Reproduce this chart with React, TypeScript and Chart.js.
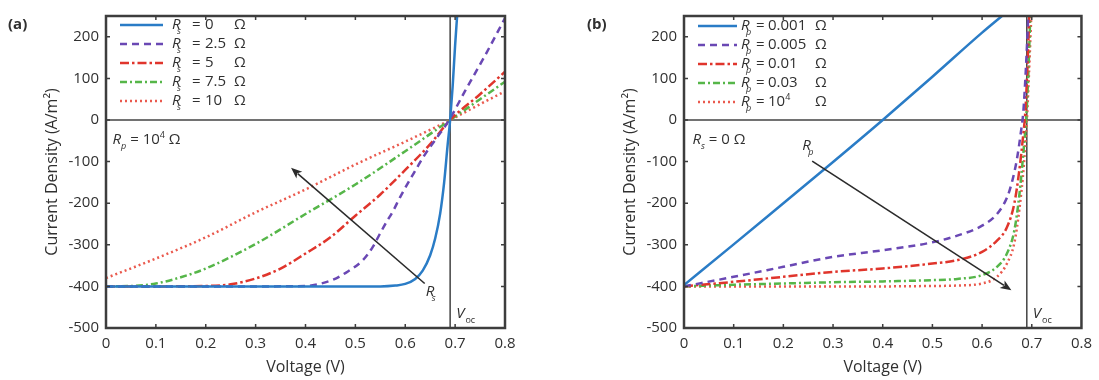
import React, { useEffect, useRef } from "react";
import { Chart, registerables } from "chart.js";
Chart.register(...registerables);

const FONT = '"Open Sans", "Liberation Sans", sans-serif';
const TXT = "#303030";

// ---- axes ----
const voltageTicks = [0, 0.1, 0.2, 0.3, 0.4, 0.5, 0.6, 0.7, 0.8];
const voltageTickLabels = ["0", "0.1", "0.2", "0.3", "0.4", "0.5", "0.6", "0.7", "0.8"];
const currentTicks = [-500, -400, -300, -200, -100, 0, 100, 200];
const currentTickLabels = ["-500", "-400", "-300", "-200", "-100", "0", "100", "200"];
const VOC = 0.69;

// ---- panel (a): series resistance Rs, Rp = 10^4 ----
const rsValues = ["0", "2.5", "5", "7.5", "10"];
const aRs0V = [0, 0.1, 0.2, 0.3, 0.4, 0.5, 0.55, 0.58, 0.6, 0.62, 0.635, 0.65, 0.66, 0.67, 0.678, 0.685, 0.69, 0.695, 0.7, 0.704];
const aRs0J = [-400, -400, -400, -400, -400, -400, -400, -398, -394, -382, -362, -325, -285, -225, -150, -60, 0, 80, 180, 250];
const aRs25V = [0, 0.1, 0.2, 0.3, 0.4, 0.42, 0.455, 0.485, 0.515, 0.535, 0.549, 0.562, 0.576, 0.589, 0.616, 0.64, 0.665, 0.688, 0.72, 0.76, 0.8];
const aRs25J = [-400, -400, -400, -400, -399, -396, -384, -364, -337, -305, -274, -246, -218, -187, -130, -82, -40, 0, 70, 155, 245];
const aRs5V = [0, 0.1, 0.2, 0.25, 0.3, 0.35, 0.4, 0.45, 0.5, 0.55, 0.6, 0.65, 0.69, 0.75, 0.8];
const aRs5J = [-400, -400, -399, -395, -381, -357, -321, -282, -230, -179, -120, -58, 0, 62, 116];
const aRs75V = [0, 0.05, 0.1, 0.15, 0.2, 0.3, 0.4, 0.5, 0.6, 0.69, 0.75, 0.8];
const aRs75J = [-400, -399, -393, -378, -357, -298, -226, -155, -75, 0, 50, 92];
const aRs10V = [0, 0.1, 0.2, 0.3, 0.4, 0.5, 0.6, 0.69, 0.75, 0.8];
const aRs10J = [-380, -333, -282, -222, -167, -107, -52, 0, 38, 69];
const aArrowFrom = [0.639, -393];
const aArrowTo = [0.371, -115];
const aArrowLabel = [0.641, -413];
const aNotePos = [0.013, -48];

// ---- panel (b): parallel resistance Rp, Rs = 0 ----
const rpValues = ["0.001", "0.005", "0.01", "0.03", "10⁴"];
const bRp1V = [0, 0.1, 0.2, 0.3, 0.4, 0.5, 0.6, 0.64];
const bRp1J = [-397, -299, -200, -101, 0, 104, 210, 250];
const bRp2V = [0, 0.1, 0.2, 0.3, 0.4, 0.5, 0.55, 0.6, 0.63, 0.65, 0.66, 0.67, 0.678, 0.683, 0.688, 0.693];
const bRp2J = [-400, -377, -353, -329, -313, -294, -278, -254, -226, -187, -150, -95, -30, 20, 120, 250];
const bRp3V = [0, 0.1, 0.2, 0.3, 0.4, 0.5, 0.55, 0.6, 0.63, 0.65, 0.665, 0.675, 0.682, 0.687, 0.691, 0.695];
const bRp3J = [-400, -389, -377, -365, -357, -345, -337, -317, -290, -258, -200, -120, -45, 20, 120, 250];
const bRp4V = [0, 0.1, 0.2, 0.3, 0.4, 0.5, 0.55, 0.6, 0.63, 0.65, 0.665, 0.675, 0.683, 0.689, 0.693, 0.697];
const bRp4J = [-400, -396, -393, -390, -388, -385, -382, -373, -353, -321, -265, -180, -80, 10, 110, 250];
const bRp5V = [0, 0.1, 0.2, 0.3, 0.4, 0.5, 0.55, 0.6, 0.63, 0.65, 0.665, 0.675, 0.684, 0.69, 0.694, 0.699];
const bRp5J = [-400, -400, -400, -400, -400, -399, -398, -393, -377, -345, -295, -215, -110, -5, 100, 250];
const bArrowFrom = [0.258, -99];
const bArrowTo = [0.659, -409];
const bArrowLabel = [0.238, -63];
const bNotePos = [0.017, -48];

// ---- styles ----
const seriesColors = ["#2a7cc6", "#6a48b4", "#e0352c", "#56b649", "#ea5a4e"];
const seriesDash = [[], [7, 5], [9, 3, 2.5, 3], [7, 3, 2, 3], [2, 3]];

type Part = { t: string; it?: boolean; sub?: boolean; sup?: boolean; b?: boolean };

function drawRich(ctx: CanvasRenderingContext2D, x: number, y: number, parts: Part[], size: number) {
  ctx.save();
  ctx.fillStyle = TXT;
  ctx.textBaseline = "middle";
  ctx.textAlign = "left";
  let cx = x;
  for (const p of parts) {
    const small = p.sub || p.sup;
    const fs = small ? Math.round(size * 0.62) : size;
    ctx.font = `${p.it ? "italic " : ""}${p.b ? "bold " : ""}${fs}px ${FONT}`;
    const dy = p.sub ? size * 0.42 : p.sup ? -size * 0.32 : 0;
    ctx.fillText(p.t, cx, y + dy);
    cx += ctx.measureText(p.t).width;
  }
  ctx.restore();
  return cx;
}

function valueParts(s: string): Part[] {
  if (s.endsWith("⁴")) return [{ t: s.slice(0, -1) }, { t: "4", sup: true }];
  return [{ t: s }];
}

function zip(v: number[], j: number[]) {
  return v.map((x, i) => ({ x, y: j[i] }));
}

type PanelCfg = {
  id: string;
  label: string;
  sub: string;
  values: string[];
  series: [number[], number[]][];
  legend: { x0: number; x1: number; rX: number; eqX: number; valX: number; omX: number; rows: number[] };
  note: Part[];
  notePos: number[];
  arrowFrom: number[];
  arrowTo: number[];
  arrowLabel: number[];
  arrowSub: string;
  padLeft: number;
  padRight: number;
  yWidth: number;
  labelX: number;
};

function makePlugin(cfg: PanelCfg) {
  return {
    id: "decor" + cfg.id,
    beforeDatasetsDraw(chart: any) {
      const { ctx, chartArea: a, scales } = chart;
      const x = scales.x, y = scales.y;
      ctx.save();
      ctx.strokeStyle = "#444";
      ctx.lineWidth = 1.5;
      const y0 = y.getPixelForValue(0);
      const xv = x.getPixelForValue(VOC);
      ctx.beginPath();
      ctx.moveTo(a.left, y0);
      ctx.lineTo(a.right, y0);
      ctx.moveTo(xv, a.top);
      ctx.lineTo(xv, a.bottom);
      ctx.stroke();
      ctx.restore();
    },
    afterDatasetsDraw(chart: any) {
      const { ctx, chartArea: a, scales } = chart;
      const x = scales.x, y = scales.y;
      ctx.save();
      // frame
      ctx.strokeStyle = "#3d3d3d";
      ctx.lineWidth = 2.5;
      ctx.strokeRect(a.left, a.top, a.right - a.left, a.bottom - a.top);
      // inward ticks
      ctx.lineWidth = 1.5;
      ctx.beginPath();
      voltageTicks.forEach((v) => {
        if (v <= 0 || v >= 0.8) return;
        const px = x.getPixelForValue(v);
        ctx.moveTo(px, a.bottom);
        ctx.lineTo(px, a.bottom - 4);
        ctx.moveTo(px, a.top);
        ctx.lineTo(px, a.top + 4);
      });
      currentTicks.forEach((v) => {
        if (v <= -500) return;
        const py = y.getPixelForValue(v);
        ctx.moveTo(a.left, py);
        ctx.lineTo(a.left + 4, py);
        ctx.moveTo(a.right, py);
        ctx.lineTo(a.right - 4, py);
      });
      ctx.stroke();
      ctx.restore();

      // legend
      const L = cfg.legend;
      cfg.values.forEach((val, i) => {
        const ry = L.rows[i];
        ctx.save();
        ctx.strokeStyle = seriesColors[i];
        ctx.lineWidth = 2.5;
        ctx.setLineDash(seriesDash[i]);
        ctx.beginPath();
        ctx.moveTo(L.x0, ry);
        ctx.lineTo(L.x1, ry);
        ctx.stroke();
        ctx.restore();
        drawRich(ctx, L.rX, ry, [{ t: "R", it: true }], 15);
        drawRich(ctx, L.rX + 5, ry, [{ t: cfg.sub, it: true, sub: true }], 15);
        drawRich(ctx, L.eqX, ry, [{ t: "=" }], 15);
        drawRich(ctx, L.valX, ry, valueParts(val), 15);
        drawRich(ctx, L.omX, ry, [{ t: "Ω" }], 15);
      });

      // note
      drawRich(ctx, x.getPixelForValue(cfg.notePos[0]), y.getPixelForValue(cfg.notePos[1]), cfg.note, 15);

      // arrow
      const fx = x.getPixelForValue(cfg.arrowFrom[0]);
      const fy = y.getPixelForValue(cfg.arrowFrom[1]);
      const tx = x.getPixelForValue(cfg.arrowTo[0]);
      const ty = y.getPixelForValue(cfg.arrowTo[1]);
      const ang = Math.atan2(ty - fy, tx - fx);
      const hl = 11, hw = 4.5;
      ctx.save();
      ctx.strokeStyle = "#2b2b2b";
      ctx.fillStyle = "#2b2b2b";
      ctx.lineWidth = 1.6;
      ctx.beginPath();
      ctx.moveTo(fx, fy);
      ctx.lineTo(tx - Math.cos(ang) * hl * 0.8, ty - Math.sin(ang) * hl * 0.8);
      ctx.stroke();
      ctx.beginPath();
      ctx.moveTo(tx, ty);
      ctx.lineTo(tx - Math.cos(ang) * hl - Math.sin(ang) * hw, ty - Math.sin(ang) * hl + Math.cos(ang) * hw);
      ctx.lineTo(tx - Math.cos(ang) * hl * 0.75, ty - Math.sin(ang) * hl * 0.75);
      ctx.lineTo(tx - Math.cos(ang) * hl + Math.sin(ang) * hw, ty - Math.sin(ang) * hl - Math.cos(ang) * hw);
      ctx.closePath();
      ctx.fill();
      ctx.restore();
      const lx = x.getPixelForValue(cfg.arrowLabel[0]);
      const ly = y.getPixelForValue(cfg.arrowLabel[1]);
      drawRich(ctx, lx, ly, [{ t: "R", it: true }], 15);
      drawRich(ctx, lx + 6, ly, [{ t: cfg.arrowSub, it: true, sub: true }], 15);

      // Voc label
      const vx = x.getPixelForValue(VOC) + 6;
      const vy = a.bottom - 14;
      const ex = drawRich(ctx, vx, vy, [{ t: "V", it: true }], 15);
      drawRich(ctx, ex + 1, vy, [{ t: "oc", sub: true }], 15);

      // panel label
      drawRich(ctx, cfg.labelX, 25, [{ t: cfg.label, b: true }], 15);
    },
  };
}

function buildConfig(cfg: PanelCfg): any {
  return {
    type: "line",
    data: {
      datasets: cfg.series.map(([v, j], i) => ({
        data: zip(v, j),
        borderColor: seriesColors[i],
        borderWidth: 2.5,
        borderDash: seriesDash[i],
        pointRadius: 0,
        fill: false,
        cubicInterpolationMode: "monotone",
      })),
    },
    options: {
      animation: false,
      responsive: false,
      maintainAspectRatio: false,
      layout: { padding: { left: cfg.padLeft, right: cfg.padRight, top: 12, bottom: 0 } },
      plugins: { legend: { display: false }, tooltip: { enabled: false } },
      scales: {
        x: {
          type: "linear",
          min: 0,
          max: 0.8,
          grid: { display: false, drawTicks: false },
          border: { display: false },
          afterBuildTicks: (s: any) => {
            s.ticks = voltageTicks.map((v) => ({ value: v }));
          },
          afterFit: (s: any) => {
            s.height = 52;
          },
          ticks: {
            callback: (_v: any, i: number) => voltageTickLabels[i],
            font: { size: 15, family: FONT },
            color: TXT,
            padding: 7,
            maxRotation: 0,
            autoSkip: false,
          },
          title: {
            display: true,
            text: "Voltage (V)",
            font: { size: 16, family: FONT },
            color: TXT,
            padding: { top: 0, bottom: 3 },
          },
        },
        y: {
          type: "linear",
          min: -500,
          max: 250,
          grid: { display: false, drawTicks: false },
          border: { display: false },
          afterBuildTicks: (s: any) => {
            s.ticks = currentTicks.map((v) => ({ value: v }));
          },
          afterFit: (s: any) => {
            s.width = cfg.yWidth;
          },
          ticks: {
            callback: (_v: any, i: number) => currentTickLabels[i],
            font: { size: 15, family: FONT },
            color: TXT,
            padding: 7,
            autoSkip: false,
          },
          title: {
            display: true,
            text: "Current Density (A/m²)",
            font: { size: 16, family: FONT },
            color: TXT,
            padding: { top: 4, bottom: 0 },
          },
        },
      },
    },
    plugins: [makePlugin(cfg)],
  };
}

const panelA: PanelCfg = {
  id: "a",
  label: "(a)",
  sub: "s",
  values: rsValues,
  series: [[aRs0V, aRs0J], [aRs25V, aRs25J], [aRs5V, aRs5J], [aRs75V, aRs75J], [aRs10V, aRs10J]],
  legend: { x0: 120, x1: 163, rX: 172, eqX: 192, valX: 205, omX: 234, rows: [25, 44, 63, 82, 101] },
  note: [{ t: "R", it: true }, { t: "p", it: true, sub: true }, { t: " = 10" }, { t: "4", sup: true }, { t: " Ω" }],
  notePos: aNotePos,
  arrowFrom: aArrowFrom,
  arrowTo: aArrowTo,
  arrowLabel: aArrowLabel,
  arrowSub: "s",
  padLeft: 39,
  padRight: 55,
  yWidth: 67,
  labelX: 8,
};

const panelB: PanelCfg = {
  id: "b",
  label: "(b)",
  sub: "p",
  values: rpValues,
  series: [[bRp1V, bRp1J], [bRp2V, bRp2J], [bRp3V, bRp3J], [bRp4V, bRp4J], [bRp5V, bRp5J]],
  legend: { x0: 123, x1: 162, rX: 166, eqX: 181, valX: 193, omX: 240, rows: [26, 45, 64, 83, 102] },
  note: [{ t: "R", it: true }, { t: "s", it: true, sub: true }, { t: " = 0 Ω" }],
  notePos: bNotePos,
  arrowFrom: bArrowFrom,
  arrowTo: bArrowTo,
  arrowLabel: bArrowLabel,
  arrowSub: "p",
  padLeft: 42,
  padRight: 16,
  yWidth: 67,
  labelX: 12,
};

function Panel({ cfg, left, width }: { cfg: PanelCfg; left: number; width: number }) {
  const ref = useRef<HTMLCanvasElement>(null);
  useEffect(() => {
    const chart = new Chart(ref.current as HTMLCanvasElement, buildConfig(cfg));
    return () => chart.destroy();
  }, []);
  return (
    <canvas
      ref={ref}
      width={width}
      height={380}
      style={{ position: "absolute", left, top: 0, width, height: 380 }}
    />
  );
}

export default function App() {
  return (
    <div style={{ position: "absolute", left: 0, top: 0, width: 1099, height: 380, background: "#fff", overflow: "hidden" }}>
      <Panel cfg={panelA} left={0} width={560} />
      <Panel cfg={panelB} left={575} width={524} />
    </div>
  );
}
